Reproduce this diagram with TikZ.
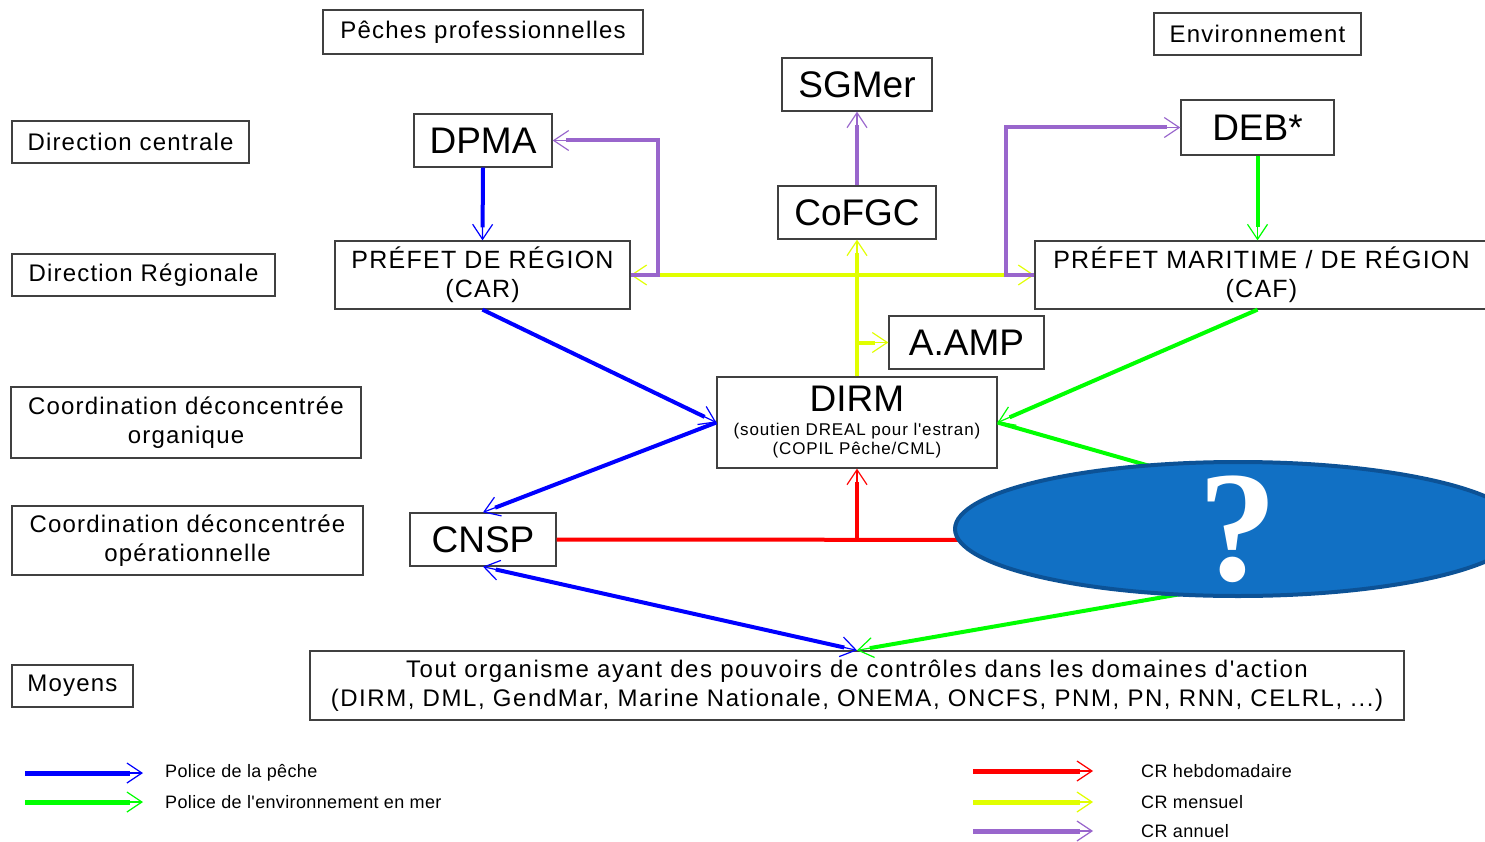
\documentclass[tikz,border=0pt]{standalone}
\usepackage{fontspec}
\setmainfont{Liberation Sans}
\newfontfamily\widefont[LetterSpace=5]{Liberation Sans}
\newfontfamily\toutfont[LetterSpace=6.5]{Liberation Sans}
\newfontfamily\legfont[LetterSpace=2]{Liberation Sans}
\newfontfamily\qmarkfont{Liberation Serif}
\usepackage{tikz}
\usetikzlibrary{arrows.meta,shapes.geometric,positioning}
\definecolor{pblue}{RGB}{0,0,255}
\definecolor{pgreen}{RGB}{0,255,0}
\definecolor{pred}{RGB}{255,0,0}
\definecolor{pyellow}{RGB}{225,255,0}
\definecolor{ppurple}{RGB}{153,102,204}
\definecolor{qblue}{RGB}{17,112,196}
\definecolor{qborder}{RGB}{12,82,150}
\tikzstyle{tier} = [rectangle, draw=black!75, line width=1.3pt, inner sep=0pt, align=center, font=\widefont\fontsize{24}{29}\selectfont]
\tikzstyle{prefet} = [tier, font=\widefont\fontsize{25}{29}\selectfont]
\tikzstyle{entity} = [rectangle, draw=black!75, line width=1.3pt, inner sep=0pt, font=\fontsize{37}{37}\selectfont]
\tikzstyle{conn} = [line width=4pt, shorten >=13pt, postaction={draw, line width=1.2pt, shorten >=0pt, -{Straight Barb[length=15pt,width=20pt]}}]
\tikzstyle{connboth} = [line width=4pt, shorten >=13pt, shorten <=13pt, postaction={draw, line width=1.2pt, shorten >=0pt, shorten <=0pt, {Straight Barb[length=15pt,width=20pt]}-{Straight Barb[length=15pt,width=20pt]}}]
\tikzstyle{legtext} = [anchor=west, inner sep=0pt, font=\legfont\fontsize{18}{20}\selectfont]

\begin{document}
\begin{tikzpicture}[x=1pt, y=-1pt]
\useasboundingbox (0,0) rectangle (1485,842);
\clip (0,0) rectangle (1485,842);

% Level labels
\node (peches) [tier, minimum width=320pt, minimum height=44pt] at (483,32) {Pêches professionnelles};
\node (envir) [tier, minimum width=207pt, minimum height=42pt] at (1257.5,34) {Environnement};
\node (dircent) [tier, minimum width=237pt, minimum height=42pt] at (130.5,142) {Direction centrale};
\node (dirreg) [tier, minimum width=263pt, minimum height=42pt] at (143.5,275) {Direction Régionale};
\node (coorg) [tier, minimum width=350pt, minimum height=71pt] at (186,422.5) {Coordination déconcentrée\\organique};
\node (coop) [tier, minimum width=351pt, minimum height=69pt] at (187.5,540.5) {Coordination déconcentrée\\opérationnelle};
\node (moyens) [tier, minimum width=121pt, minimum height=42pt] at (72.5,686) {Moyens};

% Organisation nodes
\node (dpma) [entity, minimum width=138pt, minimum height=53pt] at (483,140.5) {DPMA};
\node (sgmer) [entity, minimum width=150pt, minimum height=53pt] at (857,84.5) {SGMer};
\node (cofgc) [entity, minimum width=158pt, minimum height=53pt] at (857,212.5) {CoFGC};
\node (deb) [entity, minimum width=153pt, minimum height=55pt] at (1257.5,127.5) {DEB*};
\node (car) [prefet, minimum width=295pt, minimum height=68pt] at (482.5,275) {PRÉFET DE RÉGION\\(CAR)};
\node (caf) [prefet, minimum width=453pt, minimum height=68pt] at (1261.5,275) {PRÉFET MARITIME / DE RÉGION\\(CAF)};
\node (aamp) [entity, minimum width=155pt, minimum height=53pt] at (966.5,342.5) {A.AMP};
\node (dirm) [entity, align=center, minimum width=280pt, minimum height=91pt, font=\widefont\fontsize{17}{19}\selectfont] at (857,422.5) {{\normalfont\fontsize{37}{37}\selectfont DIRM}\\[5pt](soutien DREAL pour l'estran)\\(COPIL Pêche/CML)};
\node (cnsp) [entity, minimum width=146pt, minimum height=53pt] at (483,539.5) {CNSP};
\node (tout) [tier, font=\toutfont\fontsize{24}{29}\selectfont, minimum width=1094pt, minimum height=69pt] at (857,685.5) {Tout organisme ayant des pouvoirs de contrôles dans les domaines d'action\\(DIRM, DML, GendMar, Marine Nationale, ONEMA, ONCFS, PNM, PN, RNN, CELRL, ...)};

% Links
\coordinate (ycross) at (857,275);
\coordinate (ghub) at (1440,549);
\coordinate (rhub) at (1100,540);
\draw[conn, pyellow] (dirm.north) -- (cofgc.south);
\draw[conn, pyellow] (ycross) -- (car.east);
\draw[conn, pyellow] (ycross) -- (caf.west);
\draw[conn, pyellow] (dirm.north |- aamp.west) -- (aamp.west);
\draw[conn, ppurple] (car.east) -- ++(27,0) |- (dpma.east);
\draw[conn, ppurple] (cofgc.north) -- (sgmer.south);
\draw[conn, ppurple] (caf.west) -- ++(-28,0) |- (deb.west);
\draw[conn, pgreen] (deb.south) -- (deb.south |- caf.north);
\draw[conn, pblue] (dpma.south) -- (car.north);
\draw[conn, pblue] (car.south) -- (dirm.west);
\draw[conn, pblue] (dirm.west) -- (cnsp.north);
\draw[conn, pgreen] (deb.south |- caf.south) -- (dirm.east);
\draw[conn, pgreen] (dirm.east) -- (ghub) -- (tout.north);
\draw[line width=4pt, pred] (cnsp.east) -- (rhub);
\draw[conn, pred] (dirm.south |- cnsp.east) -- (dirm.south);
\draw[connboth, pblue] (cnsp.south) -- (tout.north);

% Question mark
\node (query) [ellipse, draw=qborder, line width=4pt, fill=qblue, minimum width=566pt, minimum height=134pt, inner sep=0pt,
  label={[text=white, font=\qmarkfont\bfseries\fontsize{158}{158}\selectfont]center:?}] at (1238,529) {};

% Legend
\coordinate (lga) at (25,773); \coordinate (lgb) at (143,773);
\coordinate (lgc) at (25,802); \coordinate (lgd) at (143,802);
\coordinate (lge) at (973,771); \coordinate (lgf) at (1093,771);
\coordinate (lgg) at (973,802); \coordinate (lgh) at (1093,802);
\coordinate (lgi) at (973,831); \coordinate (lgj) at (1093,831);
\draw[conn, pblue, line width=5pt] (lga) -- (lgb);
\draw[conn, pgreen, line width=5pt] (lgc) -- (lgd);
\draw[conn, pred, line width=5pt] (lge) -- (lgf);
\draw[conn, pyellow, line width=5pt] (lgg) -- (lgh);
\draw[conn, ppurple, line width=5pt] (lgi) -- (lgj);
\node (lgpeche) [legtext] at (165,773) {Police de la pêche};
\node (lgenvir) [legtext] at (165,802) {Police de l'environnement en mer};
\node (lghebdo) [legtext] at (1141,771) {CR hebdomadaire};
\node (lgmens) [legtext] at (1141,802) {CR mensuel};
\node (lgann) [legtext] at (1141,831) {CR annuel};
\end{tikzpicture}
\end{document}
